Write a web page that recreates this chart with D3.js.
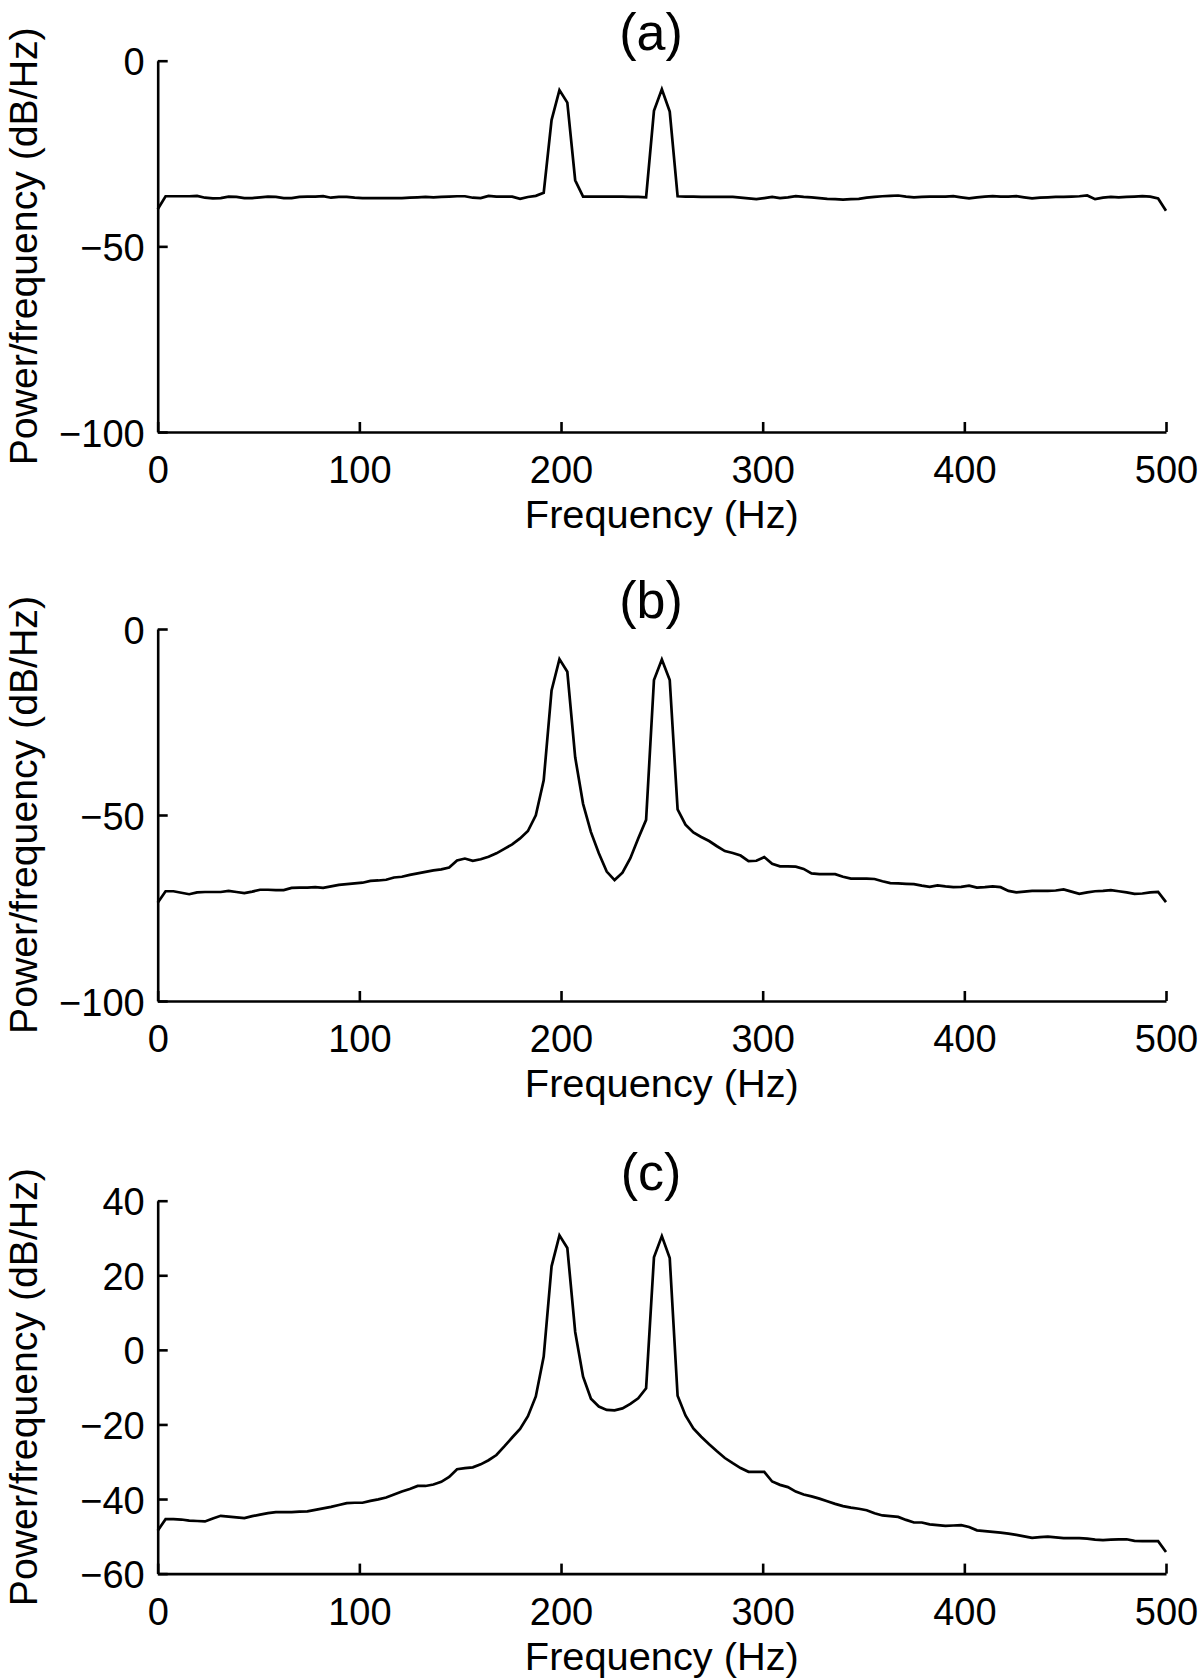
<!DOCTYPE html>
<html>
<head>
<meta charset="utf-8">
<script src="https://cdn.jsdelivr.net/npm/d3@7"></script>
<style>
  html, body { margin: 0; padding: 0; background: #fff; }
  svg { display: block; }
  text { font-family: "Liberation Sans", Arial, Helvetica, sans-serif; fill: #000; }
</style>
</head>
<body>
<svg id="chart" width="1200" height="1679"></svg>
<script>
// ---------- data ----------
const freqHz = [0,3.91,7.81,11.72,15.63,19.53,23.44,27.34,31.25,35.16,39.06,42.97,46.88,50.78,54.69,58.59,62.5,66.41,70.31,74.22,78.13,82.03,85.94,89.84,93.75,97.66,101.56,105.47,109.38,113.28,117.19,121.09,125,128.91,132.81,136.72,140.63,144.53,148.44,152.34,156.25,160.16,164.06,167.97,171.88,175.78,179.69,183.59,187.5,191.41,195.31,199.22,203.13,207.03,210.94,214.84,218.75,222.66,226.56,230.47,234.38,238.28,242.19,246.09,250,253.91,257.81,261.72,265.63,269.53,273.44,277.34,281.25,285.16,289.06,292.97,296.88,300.78,304.69,308.59,312.5,316.41,320.31,324.22,328.13,332.03,335.94,339.84,343.75,347.66,351.56,355.47,359.38,363.28,367.19,371.09,375,378.91,382.81,386.72,390.63,394.53,398.44,402.34,406.25,410.16,414.06,417.97,421.88,425.78,429.69,433.59,437.5,441.41,445.31,449.22,453.13,457.03,460.94,464.84,468.75,472.66,476.56,480.47,484.38,488.28,492.19,496.09,500];

const psdA = [-40.0,-36.5,-36.5,-36.5,-36.5,-36.4,-36.9,-37.1,-37.0,-36.6,-36.7,-37.0,-37.0,-36.8,-36.6,-36.7,-37.0,-37.0,-36.7,-36.6,-36.6,-36.5,-36.9,-36.7,-36.7,-36.9,-37.0,-37.0,-37.0,-37.0,-37.0,-37.0,-36.9,-36.8,-36.7,-36.8,-36.7,-36.6,-36.5,-36.5,-36.9,-37.0,-36.4,-36.6,-36.6,-36.6,-37.2,-36.7,-36.4,-35.6,-16.0,-7.9,-11.3,-32.2,-36.6,-36.6,-36.6,-36.6,-36.6,-36.6,-36.7,-36.7,-36.8,-13.5,-7.7,-13.7,-36.5,-36.6,-36.6,-36.7,-36.7,-36.7,-36.7,-36.7,-36.9,-37.1,-37.3,-37.0,-36.7,-37.0,-36.8,-36.5,-36.7,-36.8,-37.0,-37.2,-37.3,-37.4,-37.3,-37.2,-36.9,-36.7,-36.5,-36.4,-36.3,-36.6,-36.8,-36.7,-36.6,-36.6,-36.6,-36.5,-36.8,-37.1,-36.8,-36.6,-36.5,-36.6,-36.6,-36.5,-36.8,-37.1,-36.9,-36.8,-36.7,-36.7,-36.6,-36.5,-36.3,-37.3,-36.9,-36.7,-36.8,-36.7,-36.6,-36.5,-36.6,-37.1,-40.4];

const psdB = [-73.6,-70.5,-70.5,-70.9,-71.3,-70.8,-70.7,-70.7,-70.7,-70.4,-70.7,-71.0,-70.6,-70.1,-70.1,-70.2,-70.2,-69.6,-69.5,-69.5,-69.4,-69.6,-69.2,-68.8,-68.6,-68.4,-68.2,-67.7,-67.6,-67.4,-66.8,-66.6,-66.1,-65.7,-65.3,-64.9,-64.6,-64.1,-62.2,-61.7,-62.3,-61.9,-61.2,-60.3,-59.1,-57.9,-56.3,-54.3,-50.1,-40.7,-16.5,-8.1,-11.5,-34.5,-47.0,-54.6,-60.3,-65.2,-67.5,-65.5,-61.6,-56.3,-51.3,-13.7,-8.2,-13.7,-48.5,-52.6,-54.7,-55.9,-57.0,-58.4,-59.7,-60.2,-60.9,-62.4,-62.3,-61.3,-63.1,-63.8,-63.8,-63.9,-64.5,-65.7,-65.9,-65.9,-65.9,-66.6,-67.1,-67.1,-67.1,-67.2,-67.8,-68.3,-68.4,-68.5,-68.6,-69.0,-69.3,-68.9,-69.2,-69.4,-69.3,-69.0,-69.5,-69.4,-69.2,-69.4,-70.4,-70.8,-70.6,-70.4,-70.4,-70.4,-70.3,-70.0,-70.6,-71.2,-70.8,-70.5,-70.4,-70.2,-70.5,-70.8,-71.2,-71.1,-70.8,-70.7,-73.4];

const psdC = [-48.5,-45.4,-45.4,-45.5,-45.8,-45.9,-46.0,-45.2,-44.5,-44.7,-44.9,-45.1,-44.6,-44.2,-43.8,-43.5,-43.5,-43.5,-43.4,-43.3,-42.9,-42.5,-42.1,-41.6,-41.1,-41.0,-41.0,-40.5,-40.1,-39.6,-38.8,-38.0,-37.3,-36.5,-36.5,-36.1,-35.4,-34.1,-32.0,-31.7,-31.5,-30.7,-29.6,-28.2,-25.9,-23.5,-21.2,-17.8,-12.5,-1.8,22.4,30.7,27.3,4.8,-7.2,-13.1,-15.2,-16.1,-16.2,-15.7,-14.5,-13.0,-10.3,24.8,30.5,24.6,-12.3,-17.6,-21.1,-23.3,-25.3,-27.2,-29.0,-30.4,-31.7,-32.7,-32.7,-32.7,-35.3,-36.2,-36.8,-38.0,-38.8,-39.3,-39.9,-40.6,-41.3,-41.9,-42.3,-42.6,-43.0,-43.8,-44.4,-44.6,-44.8,-45.6,-46.3,-46.3,-46.8,-47.0,-47.2,-47.1,-47.0,-47.5,-48.4,-48.6,-48.8,-49.0,-49.3,-49.6,-50.0,-50.4,-50.2,-50.1,-50.3,-50.5,-50.5,-50.5,-50.6,-50.9,-51.0,-50.9,-50.8,-50.8,-51.2,-51.3,-51.3,-51.3,-54.2];

const xTicks = [0, 100, 200, 300, 400, 500];
const yTicksAB = [-100, -50, 0];
const yTicksC = [-60, -40, -20, 0, 20, 40];
const panelTitles = ["(a)", "(b)", "(c)"];
const xLabel = "Frequency (Hz)";
const yLabel = "Power/frequency (dB/Hz)";

// ---------- layout ----------
const svg = d3.select("#chart");
const xLeft = 157.7, xRight = 1166;
const panels = [
  { title: panelTitles[0], values: psdA, domain: [-100, 0], ticks: yTicksAB, top: 60.7, bottom: 432 },
  { title: panelTitles[1], values: psdB, domain: [-100, 0], ticks: yTicksAB, top: 629, bottom: 1001 },
  { title: panelTitles[2], values: psdC, domain: [-60, 40], ticks: yTicksC, top: 1200.7, bottom: 1573.6 }
];

const x = d3.scaleLinear().domain([0, 500]).range([xLeft, xRight]);
const tickFont = "38px";

panels.forEach(p => {
  const y = d3.scaleLinear().domain(p.domain).range([p.bottom, p.top]);
  const g = svg.append("g");

  // data line
  const pts = freqHz.map((f, i) => [f, p.values[i]]).filter(d => d[1] !== undefined);
  g.append("path")
    .datum(pts)
    .attr("fill", "none")
    .attr("stroke", "#000")
    .attr("stroke-width", 2.7)
    .attr("stroke-linejoin", "miter")
    .attr("d", d3.line().x(d => x(d[0])).y(d => y(d[1])));

  // x axis
  const gx = g.append("g")
    .attr("transform", `translate(0,${p.bottom})`)
    .call(d3.axisBottom(x).tickValues(xTicks).tickSizeInner(-10).tickSizeOuter(0).tickPadding(0));
  gx.select(".domain").attr("stroke-width", 2.6).attr("stroke", "#000");
  gx.selectAll(".tick line").attr("stroke-width", 2.6).attr("stroke", "#000");
  gx.selectAll(".tick text")
    .attr("y", 51).attr("dy", null)
    .style("font-size", tickFont)
    .style("font-family", '"Liberation Sans", Arial, sans-serif');

  // y axis
  const gy = g.append("g")
    .attr("transform", `translate(${xLeft},0)`)
    .call(d3.axisLeft(y).tickValues(p.ticks).tickSizeInner(-10).tickSizeOuter(0).tickPadding(0));
  gy.select(".domain").attr("stroke-width", 2.6).attr("stroke", "#000");
  gy.selectAll(".tick line").attr("stroke-width", 2.6).attr("stroke", "#000");
  gy.selectAll(".tick text")
    .attr("x", -13).attr("dy", null).attr("y", 14)
    .style("font-size", tickFont)
    .style("font-family", '"Liberation Sans", Arial, sans-serif');

  // title
  g.append("text")
    .attr("x", 651)
    .attr("y", p.top - 11)
    .attr("text-anchor", "middle")
    .style("font-size", "52px")
    .text(p.title);

  // x label
  g.append("text")
    .attr("x", (xLeft + xRight) / 2)
    .attr("y", p.bottom + 96)
    .attr("text-anchor", "middle")
    .attr("textLength", 274)
    .attr("lengthAdjust", "spacingAndGlyphs")
    .style("font-size", "38px")
    .text(xLabel);

  // y label
  const cy = (p.top + p.bottom) / 2;
  g.append("text")
    .attr("transform", `translate(37,${cy}) rotate(-90)`)
    .attr("text-anchor", "middle")
    .attr("textLength", 438)
    .attr("lengthAdjust", "spacingAndGlyphs")
    .style("font-size", "38px")
    .text(yLabel);
});
</script>
</body>
</html>
